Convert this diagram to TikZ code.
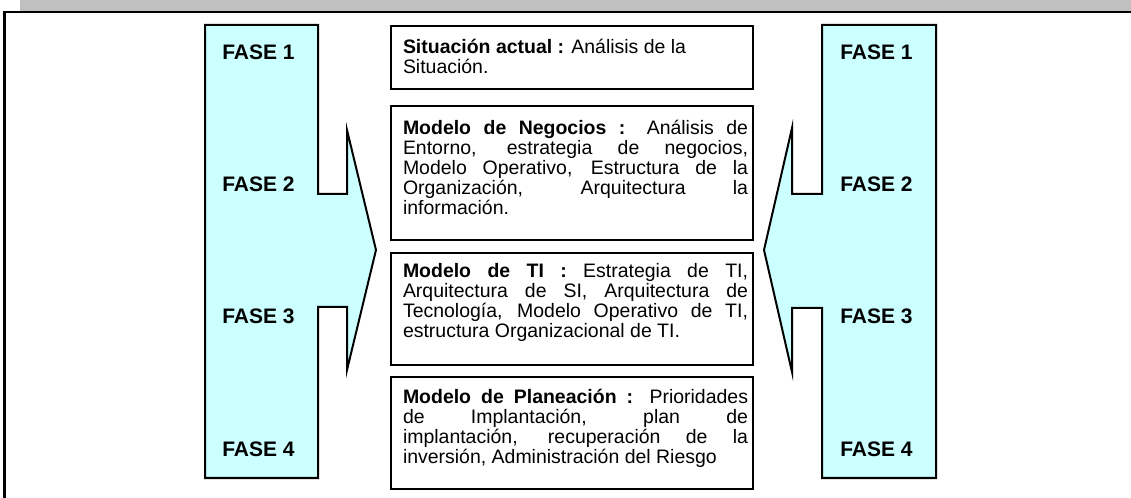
\documentclass[tikz,border=0pt]{standalone}
\usepackage{fontspec}
\setmainfont{Liberation Sans}
\definecolor{phasefill}{HTML}{CCFFFF}
\definecolor{bandgray}{HTML}{C0C0C0}
\tikzset{
  phase/.style={draw=black, line width=1.5pt, fill=phasefill, line join=miter},
  infobox/.style={draw=black, line width=1.5pt, minimum width=271.5pt,
    inner sep=0pt, font=\fontsize{14.6pt}{15pt}\selectfont},
  faselbl/.style={anchor=west, inner sep=0pt, font=\bfseries\fontsize{15.75pt}{16pt}\selectfont},
}
% justified line and left-aligned line, both as wide as the box
\newcommand{\jline}[1]{\hbox to 271.5pt{\hskip9pt #1\hskip3.75pt}}
\newcommand{\lline}[1]{\hbox to 271.5pt{\hskip9pt #1\hfil}}
\begin{document}
\begin{tikzpicture}[x=0.75pt,y=-0.75pt]
\useasboundingbox (0,0) rectangle (1131,498);
% top band and frame
\fill[bandgray] (20,0) rectangle (1131,10.8);
\draw[line width=2pt] (4.3,498) -- (4.3,12) -- (1131,12);
% left phase shape
\draw[phase] (205,25) -- (318,25) -- (318,194) -- (347,194) -- (347,130) -- (376,250)
  -- (347,370) -- (347,307) -- (318,307) -- (318,478) -- (205,478) -- cycle;
% right phase shape
\draw[phase] (936,25) -- (822,25) -- (822,194) -- (792,194) -- (792,128) -- (764,250)
  -- (792,372) -- (792,308) -- (822,308) -- (822,478) -- (936,478) -- cycle;
% labels
\node[faselbl] (l1) at (222,52) {FASE 1};
\node[faselbl] (l2) at (222,184) {FASE 2};
\node[faselbl] (l3) at (222,316) {FASE 3};
\node[faselbl] (l4) at (222,449) {FASE 4};
\node[faselbl] (r1) at (840,52) {FASE 1};
\node[faselbl] (r2) at (840,184) {FASE 2};
\node[faselbl] (r3) at (840,316) {FASE 3};
\node[faselbl] (r4) at (840,449) {FASE 4};
% boxes
\node[infobox, minimum height=47.25pt] (b1) at (572,58)
  {\vbox{\lline{\textbf{Situación actual :} Análisis de la}
         \lline{Situación.}\vskip2.25pt}};
\node[infobox, minimum height=100.5pt] (b2) at (572,173)
  {\vbox{\jline{\textbf{Modelo de Negocios :} Análisis de}
         \jline{Entorno, estrategia de negocios,}
         \jline{Modelo Operativo, Estructura de la}
         \jline{Organización, Arquitectura la}
         \lline{información.}\vskip9pt}};
\node[infobox, minimum height=84pt] (b3) at (572,309)
  {\vbox{\jline{\textbf{Modelo de TI :} Estrategia de TI,}
         \jline{Arquitectura de SI, Arquitectura de}
         \jline{Tecnología, Modelo Operativo de TI,}
         \lline{estructura Organizacional de TI.}\vskip10.5pt}};
\node[infobox, minimum height=84pt] (b4) at (572,433)
  {\vbox{\jline{\textbf{Modelo de Planeación :} Prioridades}
         \jline{de Implantación, plan de}
         \jline{implantación, recuperación de la}
         \lline{inversión, Administración del Riesgo}\vskip6.75pt}};
\end{tikzpicture}
\end{document}
